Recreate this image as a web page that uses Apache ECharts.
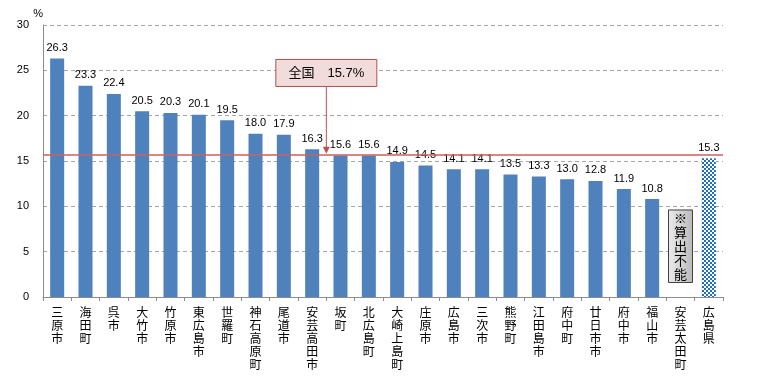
<!DOCTYPE html>
<html><head><meta charset="utf-8">
<script src="https://cdn.jsdelivr.net/npm/echarts@6/dist/echarts.min.js"></script>
<style>html,body{margin:0;padding:0;background:#fff}#c{width:757px;height:379px}</style>
</head><body><div id="c"></div>
<script>
const categories = ['三原市','海田町','呉市','大竹市','竹原市','東広島市','世羅町','神石高原町','尾道市','安芸高田市','坂町','北広島町','大崎上島町','庄原市','広島市','三次市','熊野町','江田島市','府中町','廿日市市','府中市','福山市','安芸太田町','広島県'];
const values = [26.3,23.3,22.4,20.5,20.3,20.1,19.5,18.0,17.9,16.3,15.6,15.6,14.9,14.5,14.1,14.1,13.5,13.3,13.0,12.8,11.9,10.8,null,15.3];
const nationalRate = 15.7;
const nationalLabel = '全国　15.7%';
const unavailableLabel = '※算出不能';
const prefName = '広島県';
const yMin = 0, yMax = 30, yInterval = 5;

const FONT = '"Liberation Sans","Noto Sans CJK JP",sans-serif';
const JFONT = '"Noto Sans CJK JP",sans-serif';

// checkered pattern for prefecture bar
const pc = document.createElement('canvas');
pc.width = 4; pc.height = 4;
const pctx = pc.getContext('2d');
pctx.fillStyle = '#ffffff'; pctx.fillRect(0,0,4,4);
pctx.fillStyle = '#1f6fc0';
pctx.fillRect(0,0,2,2); pctx.fillRect(2,2,2,2);

const seriesData = values.map((v,i) => {
  if (v === null) return '-';
  if (categories[i] === prefName) return {value:v, itemStyle:{color:{image:pc, repeat:'repeat'}}};
  return v;
});

const chart = echarts.init(document.getElementById('c'), null, {renderer:'canvas'});
chart.setOption({
  animation:false,
  backgroundColor:'#fff',
  grid:{left:43, right:34, top:25, bottom:82, containLabel:false},
  xAxis:{
    type:'category', data:categories,
    axisLine:{lineStyle:{color:'#8c8c8c'}},
    axisTick:{show:true, alignWithLabel:false, length:4, lineStyle:{color:'#8c8c8c'}},
    axisLabel:{interval:0, margin:9, color:'#000', fontFamily:JFONT, fontSize:12, lineHeight:13,
      verticalAlign:'top',
      formatter: s => s.split('').join('\n')}
  },
  yAxis:{
    type:'value', min:yMin, max:yMax, interval:yInterval,
    name:'%', nameLocation:'end', nameGap:6,
    nameTextStyle:{color:'#000', fontFamily:FONT, fontSize:11, align:'right', padding:[0,0,0,0]},
    axisLine:{show:true, lineStyle:{color:'#8c8c8c'}},
    axisTick:{show:false},
    axisLabel:{color:'#000', fontFamily:FONT, fontSize:11, margin:14},
    splitLine:{lineStyle:{color:'#a6a6a6', type:[4,3]}}
  },
  series:[{
    type:'bar', data:seriesData, barWidth:14,
    itemStyle:{color:'#4f81bd'},
    label:{show:true, position:'top', distance:5, color:'#000', fontFamily:FONT, fontSize:11,
      formatter: p => (typeof p.value === 'number') ? p.value.toFixed(1) : ''},
    markLine:{
      silent:true, symbol:'none', z:10,
      label:{show:false},
      lineStyle:{color:'#c9605e', width:2, type:'solid', opacity:0.75},
      data:[{yAxis:nationalRate}]
    }
  }]
});

// annotations anchored through the axes
const ax = (chart.convertToPixel({xAxisIndex:0}, 9) + chart.convertToPixel({xAxisIndex:0}, 10)) / 2;
const ly = chart.convertToPixel({yAxisIndex:0}, nationalRate);
const boxTop = chart.convertToPixel({yAxisIndex:0}, 26.2);
const boxW = 101, boxH = 27;
const gx = chart.convertToPixel({xAxisIndex:0}, 22);
const gTop = chart.convertToPixel({yAxisIndex:0}, 9.6);
const gBot = chart.convertToPixel({yAxisIndex:0}, 1.6);

chart.setOption({
  graphic:[
    {type:'line', z:20, shape:{x1:ax, y1:boxTop+boxH, x2:ax, y2:ly-6}, style:{stroke:'#c0504d', lineWidth:1}},
    {type:'polygon', z:20, shape:{points:[[ax-3.5, ly-8],[ax+3.5, ly-8],[ax, ly-1]]}, style:{fill:'#c0504d'}},
    {type:'rect', z:21, shape:{x:ax-boxW/2, y:boxTop, width:boxW, height:boxH},
      style:{fill:'#f2dcdb', stroke:'#b0504f', lineWidth:1}},
    {type:'text', z:22, x:ax, y:boxTop+boxH/2,
      style:{text:nationalLabel, fill:'#000', font:'13px '+FONT, align:'center', verticalAlign:'middle'}},
    {type:'rect', z:21, shape:{x:gx-12, y:gTop, width:24, height:gBot-gTop},
      style:{fill:new echarts.graphic.LinearGradient(0,0,1,0,[{offset:0,color:'#ececec'},{offset:1,color:'#b9b9b9'}]),
        stroke:'#404040', lineWidth:1}},
    {type:'text', z:22, x:gx, y:(gTop+gBot)/2,
      style:{text:unavailableLabel.split('').join('\n'), fill:'#000', font:'13px '+JFONT, lineHeight:14,
        align:'center', verticalAlign:'middle'}}
  ]
});
</script>
</body></html>
